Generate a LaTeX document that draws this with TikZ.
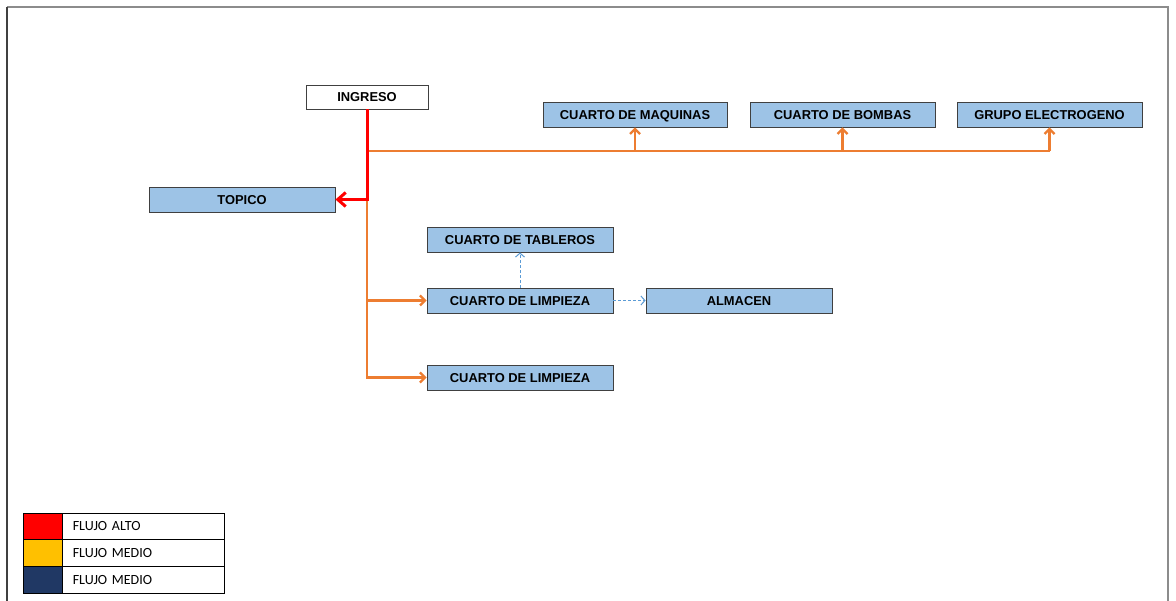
\documentclass[tikz,border=0pt]{standalone}
\usepackage{fontspec}
\setmainfont{Liberation Sans}
\newfontfamily\legendfont{Carlito}
\usetikzlibrary{arrows.meta}
\definecolor{boxfill}{HTML}{9DC3E6}
\definecolor{boxline}{HTML}{404040}
\definecolor{flowred}{HTML}{FF0000}
\definecolor{floworange}{HTML}{ED7D31}
\definecolor{flowblue}{HTML}{5B9BD5}
\definecolor{legyellow}{HTML}{FFC000}
\definecolor{legnavy}{HTML}{203864}
\definecolor{framegray}{HTML}{8C8C8C}
\tikzset{
  room/.style={draw=boxline, line width=0.9pt, fill=boxfill, inner sep=0pt,
    minimum width=186pt, minimum height=25pt, text depth=0pt, yshift=0pt,
    font=\fontsize{12.9pt}{14pt}\selectfont\bfseries},
  entry/.style={room, fill=white, minimum width=122pt, minimum height=24pt},
  redflow/.style={draw=flowred, line width=3pt},
  orangeflow/.style={draw=floworange, line width=2.2pt},
  blueflow/.style={draw=flowblue, line width=1pt, dash pattern=on 3pt off 2pt},
  redtip/.style={-{Straight Barb[length=8pt,width=14pt,line width=3pt]}},
  orangetip/.style={-{Straight Barb[length=5pt,width=10pt,line width=2.2pt]}},
  bluetip/.style={-{Straight Barb[length=4pt,width=9pt,line width=1pt]}},
  swatch/.style={draw=black, line width=0.8pt, inner sep=0pt,
    minimum width=39pt, minimum height=26.7pt},
  legrow/.style={draw=black, line width=0.8pt, inner xsep=10pt, inner ysep=0pt,
    anchor=west, minimum width=162pt, minimum height=26.7pt,
    text width=142pt, align=left,
    font=\legendfont\fontsize{14pt}{15pt}\selectfont},
}
\begin{document}
\begin{tikzpicture}[x=1pt, y=-1pt]
\useasboundingbox (0,0) rectangle (1176,601);
\fill[white] (0,0) rectangle (1176,601);

% page frame
\draw[framegray, line width=2pt] (7,7) -- (1168,7) -- (1168,601);
\draw[boxline, line width=2pt] (7,7) -- (7,601);

% rooms
\node[entry] (ingreso) at (367,97) {INGRESO};
\node[room]  (topico)  at (242,199.5) {TOPICO};
\node[room, minimum width=184pt] (maquinas) at (635,114.5) {CUARTO DE MAQUINAS};
\node[room, minimum width=185pt] (bombas)   at (842.5,114.5) {CUARTO DE BOMBAS};
\node[room, minimum width=185pt] (grupo)    at (1049.5,114.5) {GRUPO ELECTROGENO};
\node[room] (tableros) at (520,239.5) {CUARTO DE TABLEROS};
\node[room] (limpiezaA) at (520,300.5) {CUARTO DE LIMPIEZA};
\node[room] (almacen)  at (739,300.5) {ALMACEN};
\node[room] (limpiezaB) at (520,377.5) {CUARTO DE LIMPIEZA};

% junctions on the main trunk
\coordinate (branchTop) at (367,151);
\coordinate (branchLow) at (ingreso.south |- topico.east);

% orange flows (drawn first so the red trunk sits on top)
\draw[orangeflow] (branchTop) -- (grupo.south |- branchTop);
\draw[orangeflow, orangetip] (maquinas.south |- branchTop) -- (maquinas.south);
\draw[orangeflow, orangetip] (bombas.south |- branchTop) -- (bombas.south);
\draw[orangeflow, orangetip] (grupo.south |- branchTop) -- (grupo.south);
\draw[orangeflow, orangetip] (branchLow) |- (limpiezaB.west);
\draw[orangeflow, orangetip] (branchLow |- limpiezaA.west) -- (limpiezaA.west);

% red flow
\draw[redflow, redtip] (ingreso.south) |- (topico.east);

% blue dashed flows
\draw[blueflow, bluetip] (limpiezaA.north) -- (tableros.south);
\draw[blueflow, bluetip] (limpiezaA.east) -- (almacen.west);

% legend
\node[swatch, fill=flowred]   (swA) at (42.5,526.35) {};
\node[swatch, fill=legyellow] (swB) at (42.5,553.05) {};
\node[swatch, fill=legnavy]   (swC) at (42.5,579.75) {};
\node[legrow] (lgA) at (swA.east) {FLUJO ALTO};
\node[legrow] (lgB) at (swB.east) {FLUJO MEDIO};
\node[legrow] (lgC) at (swC.east) {FLUJO MEDIO};
\end{tikzpicture}
\end{document}
